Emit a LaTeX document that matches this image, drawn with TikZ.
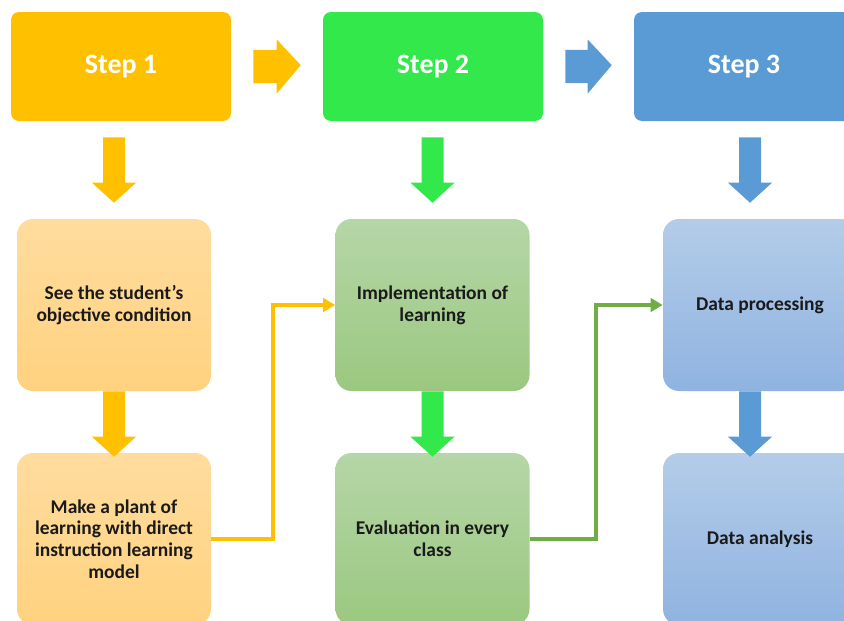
\documentclass[tikz,border=0pt]{standalone}
\usepackage{fontspec}
\setmainfont{Carlito}
\usetikzlibrary{calc,arrows.meta}

\definecolor{stepA}{HTML}{FFC000}
\definecolor{stepB}{HTML}{32E84A}
\definecolor{stepC}{HTML}{5B9BD5}
\definecolor{boxAtop}{HTML}{FFDC9E}
\definecolor{boxAbot}{HTML}{FFD27F}
\definecolor{boxBtop}{HTML}{B5D6A7}
\definecolor{boxBbot}{HTML}{9BC880}
\definecolor{boxCtop}{HTML}{B4CCE9}
\definecolor{boxCbot}{HTML}{8FB3E0}
\definecolor{linkB}{HTML}{70AD47}
\definecolor{txt}{HTML}{1A1A1A}

\tikzset{
  stepbox/.style={rectangle, rounded corners=6pt, minimum width=165pt,
    minimum height=81.75pt, inner sep=0pt, text=white,
    font=\bfseries\fontsize{21}{25}\selectfont},
  taskbox/.style={rectangle, rounded corners=12pt, minimum width=145.5pt,
    minimum height=129pt, inner sep=0pt, text=txt, align=center,
    font=\bfseries\fontsize{14.6}{16.3}\selectfont},
  orangebox/.style={taskbox, top color=boxAtop, bottom color=boxAbot},
  greenbox/.style={taskbox, top color=boxBtop, bottom color=boxBbot},
  bluebox/.style={taskbox, top color=boxCtop, bottom color=boxCbot},
  link/.style={line width=3pt, -{Triangle[length=9pt,width=10pt]}}
}

% block arrow pointing down: colour, upper node, lower node,
% gap below upper node, gap of the tip above lower node, x shift
\newcommand{\blkdown}[6]{%
  \fill[#1] let \p1=(#2.south), \p2=(#3.north) in
    (\x2+#6-8.25pt, \y1-#4) -- (\x2+#6+8.25pt, \y1-#4)
    -- (\x2+#6+8.25pt, \y2+#5+15pt) -- (\x2+#6+16.5pt, \y2+#5+15pt)
    -- (\x2+#6, \y2+#5) -- (\x2+#6-16.5pt, \y2+#5+15pt)
    -- (\x2+#6-8.25pt, \y2+#5+15pt) -- cycle;}

% block arrow pointing right between two step boxes
\newcommand{\blkright}[3]{%
  \fill[#1] let \p1=(#2.east), \p2=(#3.west) in
    (\x1+16.5pt, \y1+12.4pt) -- (\x2-34.5pt, \y1+12.4pt)
    -- (\x2-34.5pt, \y1+20.25pt) -- (\x2-16.5pt, \y1+1pt)
    -- (\x2-34.5pt, \y1-20.25pt) -- (\x2-34.5pt, \y1-12.4pt)
    -- (\x1+16.5pt, \y1-12.4pt) -- cycle;}

\begin{document}
\begin{tikzpicture}[x=0.75pt, y=-0.75pt]
  \clip (0,0) rectangle (844,621);

  % step headers
  \node[stepbox, fill=stepA] (s1) at (121,66.5) {Step 1};
  \node[stepbox, fill=stepB] (s2) at (433,66.5) {Step 2};
  \node[stepbox, fill=stepC] (s3) at (744,66.5) {Step 3};

  % tasks of each step
  \node[orangebox] (a1) at (114,305) {See the student’s\\objective condition};
  \node[orangebox] (a2) at (114,539) {Make a plant of\\learning with direct\\instruction learning\\model};
  \node[greenbox] (b1) at (432.5,305) {Implementation of\\learning};
  \node[greenbox] (b2) at (432.5,539) {Evaluation in every\\class};
  \node[bluebox] (c1) at (760,305) {Data processing};
  \node[bluebox] (c2) at (760,539) {Data analysis};

  % arrows between the steps
  \blkright{stepA}{s1}{s2}
  \blkright{stepC}{s2}{s3}

  % arrows down each column
  \blkdown{stepA}{s1}{a1}{12pt}{12pt}{0pt}
  \blkdown{stepA}{a1}{a2}{0pt}{-3pt}{0pt}
  \blkdown{stepB}{s2}{b1}{12pt}{12pt}{0pt}
  \blkdown{stepB}{b1}{b2}{0pt}{-3pt}{0pt}
  \blkdown{stepC}{s3}{c1}{12pt}{12pt}{-7.5pt}
  \blkdown{stepC}{c1}{c2}{0pt}{-3pt}{-7.5pt}

  % links from one column to the next
  \draw[link, stepA] (a2.east) -| ($(a2.east)!.5!(b1.west)$) |- (b1.west);
  \draw[link, linkB] (b2.east) -| ($(b2.east)!.5!(c1.west)$) |- (c1.west);
\end{tikzpicture}
\end{document}
